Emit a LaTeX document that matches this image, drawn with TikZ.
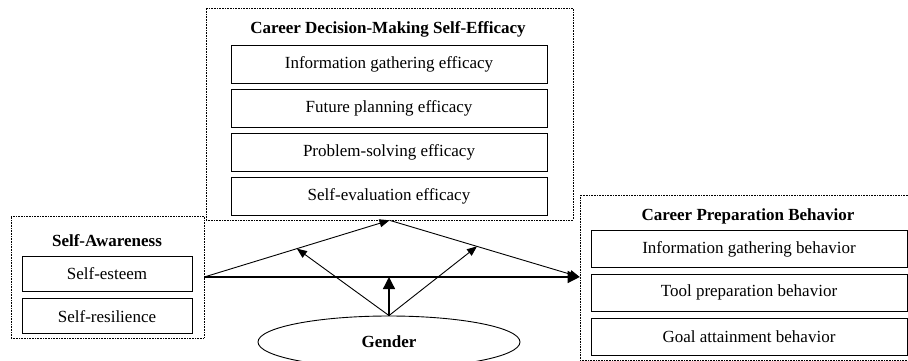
\documentclass[tikz,border=0pt]{standalone}
\usepackage{fontspec}
\setmainfont{Liberation Serif}
\usepackage{tikz}
\usetikzlibrary{positioning}
\usetikzlibrary{calc}
\usetikzlibrary{shapes}
\usetikzlibrary{arrows.meta}

\begin{document}
\begin{tikzpicture}[x=1pt, y=1pt, font=\fontsize{17}{20}\selectfont,
	group/.style = {draw, densely dotted, line width=0.6pt, rectangle, inner sep=0pt},
	head/.style = {font=\fontsize{17}{20}\selectfont\bfseries, inner sep=0pt},
	item/.style = {draw, line width=0.9pt, rectangle, inner sep=0pt, minimum width=316pt, minimum height=38pt},
	sitem/.style = {draw, line width=0.9pt, rectangle, inner sep=0pt, minimum width=170pt, minimum height=35pt},
	path/.style = {line width=0.9pt, -{Triangle[length=10pt, width=8pt]}},
	main/.style = {line width=1.3pt, -{Triangle[length=12pt, width=12pt]}}]

\useasboundingbox (0,0) rectangle (908,360);

% groups
\node[group, minimum width=367pt, minimum height=212pt] (cdm) at (389.5,246) {};
\node[group, minimum width=193pt, minimum height=122pt] (sa) at (107.5,83) {};
\node[group, minimum width=338pt, minimum height=165.5pt] (cp) at (749,82.25) {};

% career decision-making self-efficacy
\node[head] (cdmt) at (388,331) {Career Decision-Making Self-Efficacy};
\node[item] (cdm1) at (389,295.3) {Information gathering efficacy};
\node[item, below=5pt of cdm1] (cdm2) {Future planning efficacy};
\node[item, below=5pt of cdm2] (cdm3) {Problem-solving efficacy};
\node[item, below=5pt of cdm3] (cdm4) {Self-evaluation efficacy};

% self-awareness
\node[head] (sat) at (107,119) {Self-Awareness};
\node[sitem] (sa1) at (107,86) {Self-esteem};
\node[sitem, below=6.5pt of sa1] (sa2) {Self-resilience};

% career preparation behavior
\node[head] (cpt) at (748,144) {Career Preparation Behavior};
\node[item, minimum height=37pt] (cp1) at (749,111) {Information gathering behavior};
\node[item, minimum height=37pt, below=6pt of cp1] (cp2) {Tool preparation behavior};
\node[item, minimum height=37pt, below=6pt of cp2] (cp3) {Goal attainment behavior};

% moderator
\node[draw, ellipse, line width=0.9pt, minimum width=262pt, minimum height=52pt, inner sep=0pt] (gender) at (389,18) {\bfseries Gender};

\coordinate (cpin) at (sa.east -| cp.west);
\coordinate (m1) at ($(sa.east)!0.5!(cdm.south)$);
\coordinate (m2) at ($(cdm.south)!0.46!(cpin)$);
\coordinate (gm) at (gender.north |- sa.east);

\draw[main] (sa.east) -- (cpin);
\draw[path] (sa.east) -- (cdm.south);
\draw[path] (cdm.south) -- (cpin);
\draw[main] (gender.north) -- (gm);
\draw[path] (gender.north) -- (m1);
\draw[path] (gender.north) -- (m2);

\end{tikzpicture}
\end{document}
